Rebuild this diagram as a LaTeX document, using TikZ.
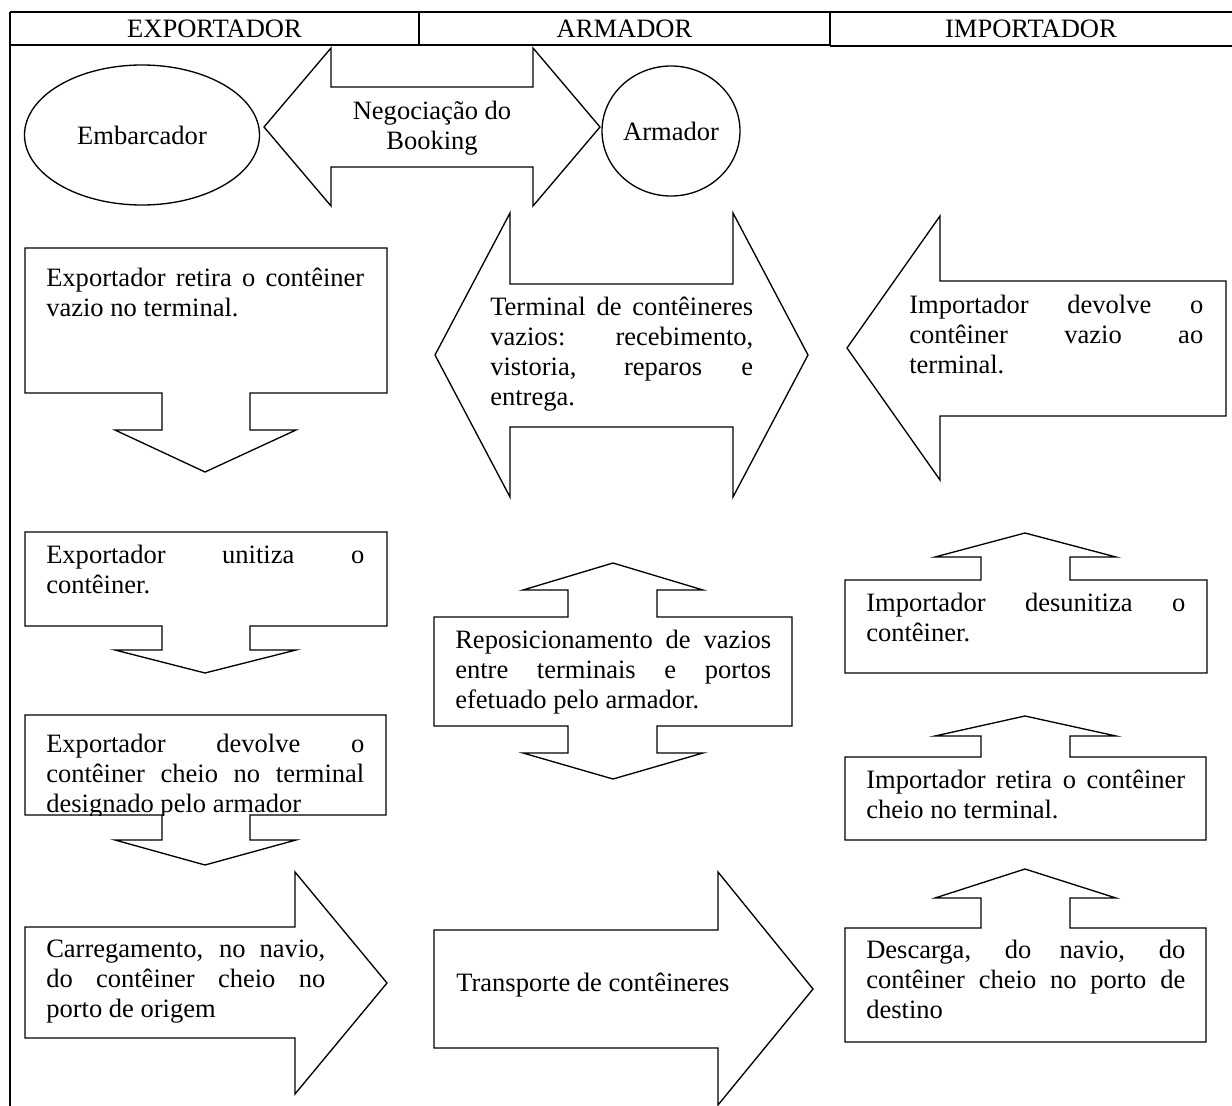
\documentclass[tikz,border=0pt]{standalone}
\usepackage{fontspec}
\setmainfont{Liberation Serif}
\usetikzlibrary{shapes.geometric}
\hyphenpenalty=10000
\tolerance=10000
\hbadness=10000

\begin{document}
\begin{tikzpicture}[
  x=0.75pt, y=-0.75pt,
  every node/.style={font=\fontsize{19.9}{22.5}\selectfont},
  frame/.style={line width=1.4pt},
  outline/.style={draw, line width=1pt, line join=miter},
  party/.style={draw, ellipse, line width=1pt, inner sep=0pt},
  lane/.style={inner sep=0pt},
  txt/.style={anchor=north west, inner sep=0pt, align=justify}
]
  \path[fill=white, use as bounding box] (0,0) rectangle (1232,1106);

  % header and frame
  \draw[frame] (10,12) -- (1232,12) (10,45) -- (830,45);
  \draw[line width=1pt] (830,46) -- (1232,46);
  \draw[frame] (10,12) -- (10,1106) (419,12) -- (419,45) (830,12) -- (830,46);
  \node[lane] (hexp) at (214.5,29) {EXPORTADOR};
  \node[lane] (harm) at (624.5,29) {ARMADOR};
  \node[lane] (himp) at (1031,29) {IMPORTADOR};

  % booking
  \node[party, minimum width=176.25pt, minimum height=105pt] (emb) at (142,135) {Embarcador};
  \node[party, minimum width=103.5pt, minimum height=97.5pt] (arm) at (671,131) {Armador};
  \draw[outline] (264,127) -- (331,48) -- (331,87) -- (533,87) -- (533,48) -- (600,127)
    -- (533,206) -- (533,167) -- (331,167) -- (331,206) -- cycle;
  \node[lane, align=center] (neg) at (432,128) {Negociação do\\Booking};

  % exportador
  \draw[outline] (25,248) -- (387,248) -- (387,393) -- (250,393) -- (250,430) -- (296,430)
    -- (205,472) -- (115,430) -- (162,430) -- (162,393) -- (25,393) -- cycle;
  \node[txt, text width=238.5pt] (ret) at (46,268) {Exportador retira o contêiner\linebreak vazio no terminal.};
  \draw[outline] (25,532) -- (387,532) -- (387,626) -- (250,626) -- (250,650) -- (296,650)
    -- (205,673) -- (115,650) -- (162,650) -- (162,626) -- (25,626) -- cycle;
  \node[txt, text width=238.5pt] (uni) at (46,545) {Exportador unitiza o\linebreak contêiner.};
  \begin{scope}
    \clip (25,715) rectangle (386,815);
    \node[txt, text width=238.5pt] (dev) at (46,734) {Exportador devolve o\linebreak contêiner cheio no terminal\linebreak designado pelo armador};
  \end{scope}
  \draw[outline] (25,715) -- (386,715) -- (386,815) -- (250,815) -- (250,840) -- (296,840)
    -- (205,865) -- (115,840) -- (162,840) -- (162,815) -- (25,815) -- cycle;
  \draw[outline] (25,927) -- (295,927) -- (295,872) -- (387,983) -- (295,1094)
    -- (295,1038) -- (25,1038) -- cycle;
  \node[txt, text width=209.25pt] (car) at (46,940) {Carregamento, no navio,\linebreak do contêiner cheio no\linebreak porto de origem};

  % armador
  \draw[outline] (435,355) -- (510,213) -- (510,284) -- (733,284) -- (733,213) -- (808,355)
    -- (733,497) -- (733,427) -- (510,427) -- (510,497) -- cycle;
  \node[txt, text width=197.25pt] (ter) at (490,297) {Terminal de contêineres\linebreak vazios: recebimento,\linebreak vistoria, reparos e\linebreak entrega.};
  \draw[outline] (434,617) -- (568,617) -- (568,590) -- (523,590) -- (613,563) -- (703,590)
    -- (657,590) -- (657,617) -- (792,617) -- (792,726) -- (657,726) -- (657,753)
    -- (703,753) -- (613,779) -- (523,753) -- (568,753) -- (568,726) -- (434,726) -- cycle;
  \node[txt, text width=237pt] (rep) at (455,630) {Reposicionamento de vazios\linebreak entre terminais e portos\linebreak efetuado pelo armador.};
  \draw[outline] (434,930) -- (718,930) -- (718,872) -- (813,989) -- (718,1105)
    -- (718,1048) -- (434,1048) -- cycle;
  \node[txt, text width=237pt] (trn) at (456,973) {Transporte de contêineres};

  % importador
  \draw[outline] (847,348) -- (940,216) -- (940,281) -- (1226,281) -- (1226,416)
    -- (940,416) -- (940,480) -- cycle;
  \node[txt, text width=220.5pt] (imd) at (909,295) {Importador devolve o\linebreak contêiner vazio ao\linebreak terminal.};
  \draw[outline] (845,580) -- (981,580) -- (981,557) -- (935,557) -- (1025,533) -- (1116,557)
    -- (1070,557) -- (1070,580) -- (1207,580) -- (1207,673) -- (845,673) -- cycle;
  \node[txt, text width=239.25pt] (des) at (866,593) {Importador desunitiza o\linebreak contêiner.};
  \draw[outline] (845,757) -- (981,757) -- (981,736) -- (935,736) -- (1025,716) -- (1116,736)
    -- (1070,736) -- (1070,757) -- (1206,757) -- (1206,840) -- (845,840) -- cycle;
  \node[txt, text width=239.25pt] (irt) at (866,770) {Importador retira o contêiner\linebreak cheio no terminal.};
  \draw[outline] (845,928) -- (981,928) -- (981,898) -- (935,898) -- (1025,869) -- (1116,898)
    -- (1070,898) -- (1070,928) -- (1206,928) -- (1206,1042) -- (845,1042) -- cycle;
  \node[txt, text width=239.25pt] (dsc) at (866,940) {Descarga, do navio, do\linebreak contêiner cheio no porto de\linebreak destino};
\end{tikzpicture}
\end{document}
